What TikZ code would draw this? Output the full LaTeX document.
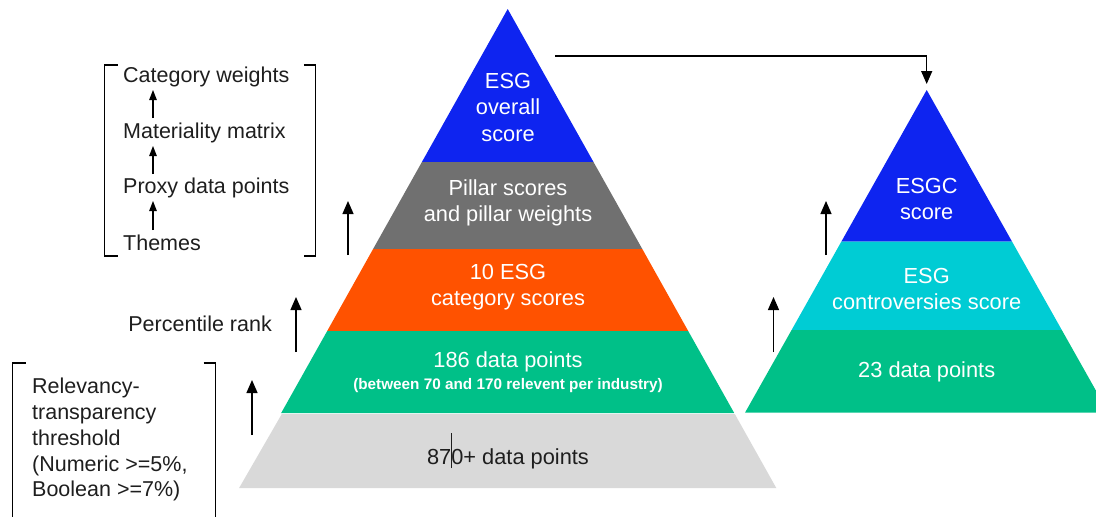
\documentclass[tikz,border=0pt]{standalone}
\usepackage{fontspec}
\setmainfont{Liberation Sans}
\usetikzlibrary{arrows.meta}
\definecolor{cblue}{RGB}{14,36,240}
\definecolor{cgray}{RGB}{112,112,112}
\definecolor{corange}{RGB}{255,82,0}
\definecolor{cgreen}{RGB}{0,192,136}
\definecolor{clight}{RGB}{217,217,217}
\definecolor{ccyan}{RGB}{0,204,212}
\definecolor{ctext}{RGB}{30,30,30}
\tikzset{
  pyrtext/.style={text=white, font=\fontsize{21.8}{26.5}\selectfont, align=center, inner sep=0pt},
  darktext/.style={text=ctext, font=\fontsize{21.8}{26.5}\selectfont, align=center, inner sep=0pt},
  smallbold/.style={text=white, font=\fontsize{15.3}{17}\selectfont\bfseries, inner sep=0pt},
  annot/.style={text=ctext, font=\fontsize{21.5}{25.8}\selectfont, align=left, inner sep=0pt},
  bigarrow/.style={draw=black, line width=1.3pt, -{Triangle[width=11pt,length=13pt]}},
  smallarrow/.style={draw=black, line width=1.2pt, -{Triangle[width=7.5pt,length=10pt]}},
  bracket/.style={draw=black, line width=1.1pt}
}
\begin{document}
\begin{tikzpicture}[x=1pt,y=-1pt]
\useasboundingbox (0,0) rectangle (1096,517);
\clip (0,0) rectangle (1096,517);
% main pyramid
\fill[cblue]   (507.7,9) -- (593.5,162) -- (421.9,162) -- cycle;
\fill[cgray]   (421.9,162) -- (593.5,162) -- (642.3,249) -- (373.1,249) -- cycle;
\fill[corange] (373.1,249) -- (642.3,249) -- (688.2,331) -- (327.2,331) -- cycle;
\fill[cgreen]  (327.2,331) -- (688.2,331) -- (734.2,413) -- (281.2,413) -- cycle;
\fill[clight]  (281.8,414) -- (734.8,414) -- (776.3,488) -- (239.1,488) -- cycle;
% right pyramid
\fill[cblue]   (926.7,90) -- (1012.1,241.7) -- (841.3,241.7) -- cycle;
\fill[ccyan]   (841.3,241.7) -- (1012.1,241.7) -- (1061.8,330) -- (791.6,330) -- cycle;
\fill[cgreen]  (791.6,330) -- (1061.8,330) -- (1108.4,412.7) -- (745,412.7) -- cycle;
% pyramid texts
\node[pyrtext] (esg) at (508,107) {ESG\\overall\\score};
\node[pyrtext] (pillar) at (508,203) {Pillar scores\\and pillar weights};
\node[pyrtext] (cat) at (508,287) {10 ESG\\category scores};
\node[pyrtext] (dp186) at (508,362) {186 data points};
\node[smallbold] (between) at (508,386) {(between 70 and 170 relevent per industry)};
\node[darktext] (dp870) at (508,451) {87\makebox[0pt]{\rule[-0.35ex]{0.7pt}{3ex}}0+ data points};
\node[pyrtext] (esgc) at (926.7,199) {ESGC\\score};
\node[pyrtext] (contro) at (926.7,289) {ESG\\controversies score};
\node[pyrtext] (dp23) at (926.7,372) {23 data points};
% top connector
\coordinate (topstart) at (555,56);
\coordinate (esgctip) at (926.7,84);
\draw[bigarrow] (topstart) -| (esgctip);
% left bracket list
\node[annot, anchor=west] (cw) at (123,77) {Category weights};
\node[annot, anchor=west] (mm) at (123,133) {Materiality matrix};
\node[annot, anchor=west] (pdp) at (123,188) {Proxy data points};
\node[annot, anchor=west] (th) at (123,243) {Themes};
\coordinate (a1b) at (153,118); \coordinate (a1t) at (153,90);
\coordinate (a2b) at (153,174); \coordinate (a2t) at (153,146);
\coordinate (a3b) at (153,230); \coordinate (a3t) at (153,201);
\draw[smallarrow] (a1b) -- (a1t);
\draw[smallarrow] (a2b) -- (a2t);
\draw[smallarrow] (a3b) -- (a3t);
\coordinate (b1tl) at (104.5,65); \coordinate (b1bl) at (104.5,256);
\coordinate (b1tr) at (315.8,65); \coordinate (b1br) at (315.8,256);
\draw[bracket] ([xshift=13pt]b1tl) -- (b1tl) -- (b1bl) -- ([xshift=13pt]b1bl);
\draw[bracket] ([xshift=-12pt]b1tr) -- (b1tr) -- (b1br) -- ([xshift=-12pt]b1br);
% percentile rank
\node[annot, anchor=east] (pr) at (272,324) {Percentile rank};
% relevancy bracket
\node[annot, anchor=north west] (rel) at (32,378) {Relevancy-\\transparency\\threshold\\(Numeric >=5\%,\\Boolean >=7\%)};
\coordinate (b2tl) at (12.5,363); \coordinate (b2bl) at (12.5,520);
\coordinate (b2tr) at (215.7,363); \coordinate (b2br) at (215.7,520);
\draw[bracket] ([xshift=13pt]b2tl) -- (b2tl) -- (b2bl);
\draw[bracket] ([xshift=-12pt]b2tr) -- (b2tr) -- (b2br);
% vertical arrows
\coordinate (v1b) at (348,255); \coordinate (v1t) at (348,201);
\coordinate (v2b) at (296,352); \coordinate (v2t) at (296,297);
\coordinate (v3b) at (252,435); \coordinate (v3t) at (252,380);
\coordinate (v4b) at (826,255); \coordinate (v4t) at (826,201);
\coordinate (v5b) at (773.5,352); \coordinate (v5t) at (773.5,297);
\draw[bigarrow] (v1b) -- (v1t);
\draw[bigarrow] (v2b) -- (v2t);
\draw[bigarrow] (v3b) -- (v3t);
\draw[bigarrow] (v4b) -- (v4t);
\draw[bigarrow] (v5b) -- (v5t);
\end{tikzpicture}
\end{document}
